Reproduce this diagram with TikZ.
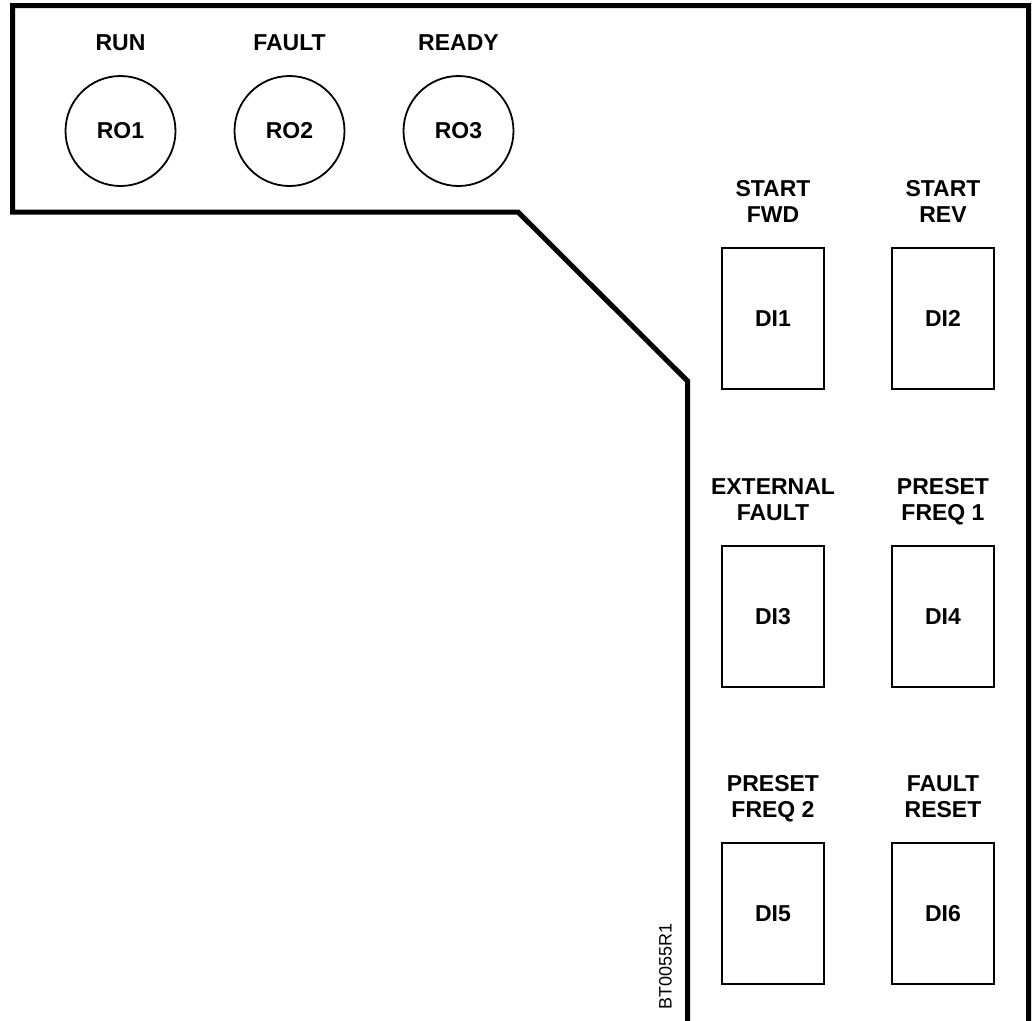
\documentclass[tikz,border=0pt]{standalone}
\usepackage{fontspec}
\setmainfont{Liberation Sans}
\usepackage{tikz}
\usetikzlibrary{positioning}

\begin{document}
\begin{tikzpicture}[
    x=1pt, y=-1pt,
    node distance=170pt,
    panel/.style={line width=5pt},
    relay/.style={
        circle,
        draw,
        line width=1.8pt,
        minimum size=110pt,
        inner sep=0pt,
        font=\fontsize{23}{26}\selectfont\bfseries
    },
    input/.style={
        rectangle,
        draw,
        line width=1.8pt,
        minimum width=102pt,
        minimum height=141pt,
        inner sep=0pt,
        font=\fontsize{23}{26}\selectfont\bfseries
    },
    lbl/.style={
        align=center,
        inner sep=0pt,
        text depth=0pt,
        font=\fontsize{23}{26}\selectfont\bfseries
    },
    every label/.style={lbl},
    label distance=24pt
]
\useasboundingbox (0,0) rectangle (1036,1020);

% OUTLINE
\draw[panel] (687.5,1040) -- (687.5,381) -- (518,212) -- (12.5,212)
    -- (12.5,5.5) -- (1028.5,5.5) -- (1028.5,1040);

% RELAY OUTPUTS
\node[relay, label=above:RUN] (RO1) at (120.5,131) {RO1};
\node[relay, label=above:FAULT, right of=RO1, node distance=169pt] (RO2) {RO2};
\node[relay, label=above:READY, right of=RO2, node distance=169pt] (RO3) {RO3};

% DIGITAL INPUTS
\node[input, label={above:START\\FWD}] (DI1) at (773,318.5) {DI1};
\node[input, label={above:START\\REV}, right of=DI1] (DI2) {DI2};

\node[input, label={above:EXTERNAL\\FAULT}, below of=DI1, node distance=298pt] (DI3) {DI3};
\node[input, label={above:PRESET\\FREQ 1}, right of=DI3] (DI4) {DI4};

\node[input, label={above:PRESET\\FREQ 2}, below of=DI3, node distance=297pt] (DI5) {DI5};
\node[input, label={above:FAULT\\RESET}, right of=DI5] (DI6) {DI6};

% DRAWING CODE
\node[rotate=90, inner sep=0pt, font=\fontsize{18}{20}\selectfont] (code) at (665.5,966) {BT0055R1};

\end{tikzpicture}
\end{document}
